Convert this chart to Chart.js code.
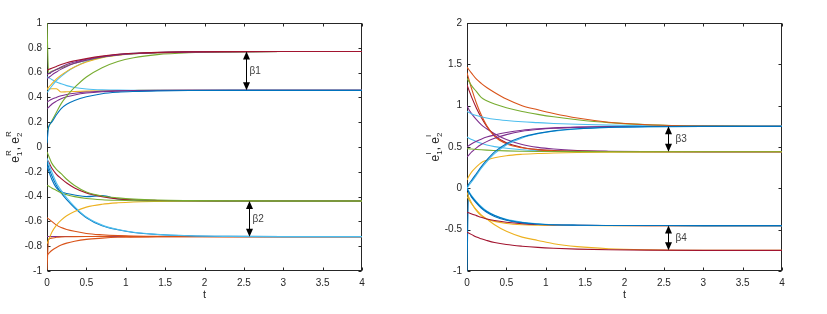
<!DOCTYPE html>
<html>
<head>
<meta charset="utf-8">
<script src="https://cdn.jsdelivr.net/npm/chart.js@4.4.0/dist/chart.umd.min.js"></script>
<style>
  html, body { margin: 0; padding: 0; background: #fff; }
  #wrap { position: relative; width: 827px; height: 314px; }
  .box { position: absolute; top: 0; height: 314px; }
  #leftBox { left: 0; width: 413px; }
  #rightBox { left: 413px; width: 414px; }
</style>
</head>
<body>
<div id="wrap">
  <div class="box" id="leftBox"><canvas id="leftChart"></canvas></div>
  <div class="box" id="rightBox"><canvas id="rightChart"></canvas></div>
</div>
<script>
// time samples shared by every curve
const timeGrid = [0, 0.02, 0.06, 0.12, 0.18, 0.25, 0.35, 0.5, 0.7, 0.9, 1.1, 1.4, 1.8, 2.3, 3, 4];

const xTicks = [0, 0.5, 1, 1.5, 2, 2.5, 3, 3.5, 4];
const leftYTicks = [-1, -0.8, -0.6, -0.4, -0.2, 0, 0.2, 0.4, 0.6, 0.8, 1];
const rightYTicks = [-1, -0.5, 0, 0.5, 1, 1.5, 2];

// left plot: e1R, e2R
const lRedA     = [0.62, 0.625, 0.635, 0.65, 0.665, 0.68, 0.695, 0.713, 0.733, 0.748, 0.756, 0.763, 0.767, 0.769, 0.77, 0.77];
const lPurpleA  = [0.585, 0.59, 0.605, 0.625, 0.645, 0.665, 0.685, 0.707, 0.73, 0.745, 0.754, 0.762, 0.767, 0.769, 0.77, 0.77];
const lPurpleA2 = [0.55, 0.56, 0.58, 0.605, 0.628, 0.65, 0.675, 0.7, 0.726, 0.742, 0.752, 0.761, 0.766, 0.769, 0.77, 0.77];
const lGreenTop = [1.0, 0.6, 0.61, 0.625, 0.64, 0.655, 0.675, 0.7, 0.725, 0.742, 0.752, 0.761, 0.766, 0.769, 0.77, 0.77];
const lYellowA  = [0.47, 0.48, 0.51, 0.55, 0.58, 0.61, 0.645, 0.685, 0.72, 0.74, 0.752, 0.761, 0.766, 0.769, 0.77, 0.77];
const lCyanA    = [0.44, 0.455, 0.49, 0.535, 0.57, 0.605, 0.645, 0.69, 0.725, 0.745, 0.755, 0.762, 0.767, 0.769, 0.77, 0.77];
const lGreenA   = [0.135, 0.16, 0.21, 0.28, 0.35, 0.41, 0.48, 0.565, 0.64, 0.69, 0.72, 0.745, 0.76, 0.767, 0.77, 0.77];
const lCyanB    = [0.565, 0.56, 0.545, 0.525, 0.51, 0.495, 0.48, 0.468, 0.461, 0.459, 0.458, 0.457, 0.457, 0.457, 0.457, 0.457];
const lYellowB  = [0.465, 0.468, 0.47, 0.47, 0.443, 0.445, 0.448, 0.451, 0.454, 0.455, 0.456, 0.457, 0.457, 0.457, 0.457, 0.457];
const lPurpleB  = [0.31, 0.32, 0.345, 0.37, 0.39, 0.405, 0.42, 0.435, 0.446, 0.451, 0.454, 0.456, 0.457, 0.457, 0.457, 0.457];
const lPurpleB2 = [0.36, 0.37, 0.385, 0.4, 0.413, 0.423, 0.433, 0.443, 0.45, 0.454, 0.456, 0.457, 0.457, 0.457, 0.457, 0.457];
const lBlueB    = [0.03, 0.16, 0.2, 0.26, 0.31, 0.345, 0.375, 0.405, 0.43, 0.442, 0.448, 0.453, 0.456, 0.457, 0.457, 0.457];
const lGreenC   = [-0.04, -0.07, -0.13, -0.18, -0.215, -0.26, -0.31, -0.363, -0.395, -0.41, -0.42, -0.428, -0.432, -0.434, -0.435, -0.435];
const lGreenC2  = [-0.31, -0.315, -0.33, -0.35, -0.37, -0.385, -0.4, -0.415, -0.425, -0.43, -0.433, -0.435, -0.435, -0.435, -0.435, -0.435];
const lRedC     = [-0.1, -0.12, -0.17, -0.22, -0.255, -0.29, -0.33, -0.37, -0.4, -0.418, -0.426, -0.431, -0.434, -0.435, -0.435, -0.435];
const lBlueC    = [-0.15, -0.19, -0.26, -0.33, -0.36, -0.375, -0.387, -0.4, -0.392, -0.42, -0.428, -0.432, -0.434, -0.435, -0.435, -0.435];
const lYellowC  = [-0.78, -0.75, -0.69, -0.63, -0.59, -0.555, -0.52, -0.485, -0.462, -0.45, -0.443, -0.439, -0.437, -0.436, -0.435, -0.435];
const lCyanD    = [-0.09, -0.13, -0.2, -0.29, -0.35, -0.41, -0.48, -0.565, -0.63, -0.665, -0.688, -0.705, -0.716, -0.721, -0.723, -0.723];
const lBlueD    = [-0.12, -0.16, -0.23, -0.31, -0.37, -0.425, -0.49, -0.57, -0.635, -0.668, -0.69, -0.706, -0.716, -0.721, -0.723, -0.723];
const lOrangeD  = [-0.57, -0.58, -0.6, -0.63, -0.65, -0.665, -0.68, -0.697, -0.708, -0.715, -0.719, -0.721, -0.722, -0.723, -0.723, -0.723];
const lOrangeD2 = [-0.873, -0.86, -0.835, -0.81, -0.79, -0.775, -0.76, -0.745, -0.735, -0.728, -0.725, -0.724, -0.723, -0.723, -0.723, -0.723];
const lPurpleD  = [-0.722, -0.722, -0.722, -0.722, -0.722, -0.722, -0.722, -0.722, -0.722, -0.722, -0.722, -0.722, -0.722, -0.722, -0.722, -0.722];
const lRedD     = [-0.99, -0.745, -0.735, -0.728, -0.725, -0.724, -0.723, -0.722, -0.721, -0.716, -0.725, -0.724, -0.723, -0.723, -0.723, -0.723];

// right plot: e1I, e2I
const rBlueA    = [0.02, 0.05, 0.1, 0.18, 0.26, 0.34, 0.44, 0.54, 0.62, 0.665, 0.695, 0.72, 0.737, 0.746, 0.75, 0.75];
const rCyanA    = [0.0, 0.03, 0.08, 0.16, 0.24, 0.32, 0.42, 0.525, 0.61, 0.66, 0.69, 0.717, 0.735, 0.745, 0.75, 0.75];
const rOrangeA  = [1.467, 1.44, 1.39, 1.32, 1.27, 1.22, 1.16, 1.08, 1.0, 0.95, 0.905, 0.85, 0.8, 0.77, 0.755, 0.75];
const rGreenA   = [1.33, 1.3, 1.24, 1.17, 1.1, 1.06, 1.02, 0.975, 0.93, 0.895, 0.865, 0.83, 0.795, 0.77, 0.755, 0.75];
const rCyanA2   = [0.93, 0.92, 0.9, 0.88, 0.865, 0.85, 0.835, 0.82, 0.805, 0.795, 0.785, 0.775, 0.765, 0.757, 0.752, 0.75];
const rPurpleA  = [0.38, 0.4, 0.44, 0.49, 0.53, 0.565, 0.605, 0.65, 0.69, 0.712, 0.726, 0.737, 0.745, 0.748, 0.75, 0.75];
const rPurpleA2 = [0.5, 0.515, 0.54, 0.57, 0.595, 0.62, 0.645, 0.675, 0.703, 0.72, 0.731, 0.74, 0.746, 0.749, 0.75, 0.75];
const rGreenB   = [0.48, 0.478, 0.475, 0.47, 0.466, 0.462, 0.458, 0.453, 0.449, 0.446, 0.445, 0.444, 0.443, 0.443, 0.443, 0.443];
const rOrangeB  = [1.4, 1.33, 1.2, 1.03, 0.89, 0.76, 0.63, 0.54, 0.49, 0.465, 0.455, 0.448, 0.445, 0.443, 0.443, 0.443];
const rRedB     = [1.25, 1.2, 1.1, 0.97, 0.86, 0.75, 0.64, 0.55, 0.495, 0.47, 0.457, 0.45, 0.446, 0.444, 0.443, 0.443];
const rPurpleB  = [1.0, 0.96, 0.9, 0.83, 0.77, 0.72, 0.66, 0.59, 0.53, 0.495, 0.475, 0.458, 0.449, 0.445, 0.443, 0.443];
const rCyanB    = [0.62, 0.61, 0.59, 0.565, 0.545, 0.525, 0.505, 0.485, 0.467, 0.457, 0.451, 0.447, 0.445, 0.443, 0.443, 0.443];
const rYellowB  = [0.1, 0.14, 0.2, 0.26, 0.31, 0.34, 0.37, 0.395, 0.412, 0.422, 0.428, 0.434, 0.438, 0.441, 0.443, 0.443];
const rBlueC    = [0.0, -0.04, -0.1, -0.17, -0.23, -0.28, -0.33, -0.38, -0.415, -0.432, -0.441, -0.446, -0.449, -0.45, -0.451, -0.451];
const rCyanC    = [0.02, -0.03, -0.09, -0.16, -0.22, -0.275, -0.325, -0.375, -0.41, -0.43, -0.44, -0.446, -0.449, -0.45, -0.451, -0.451];
const rRedC     = [-0.29, -0.295, -0.31, -0.33, -0.35, -0.37, -0.39, -0.41, -0.428, -0.438, -0.444, -0.448, -0.45, -0.451, -0.451, -0.451];
const rYellowC  = [-0.05, -0.1, -0.18, -0.27, -0.33, -0.37, -0.4, -0.425, -0.44, -0.446, -0.449, -0.45, -0.451, -0.451, -0.451, -0.451];
const rYellowD  = [-0.1, -0.13, -0.19, -0.26, -0.32, -0.37, -0.44, -0.52, -0.59, -0.63, -0.67, -0.705, -0.73, -0.743, -0.75, -0.75];
const rRedD     = [-0.53, -0.54, -0.56, -0.59, -0.61, -0.63, -0.655, -0.68, -0.7, -0.714, -0.724, -0.735, -0.743, -0.748, -0.75, -0.75];
const rBlueLow  = [-1.0, -0.05, -0.11, -0.18, -0.24, -0.29, -0.34, -0.385, -0.418, -0.434, -0.442, -0.447, -0.449, -0.45, -0.451, -0.451];

// gap arrows (data units)
const leftArrowT = [2.53, 2.57];
const leftArrowTop = [0.77, -0.435];
const leftArrowBottom = [0.457, -0.723];
const leftArrowLabels = ['β1', 'β2'];
const rightArrowT = [2.55, 2.55];
const rightArrowTop = [0.75, -0.451];
const rightArrowBottom = [0.443, -0.75];
const rightArrowLabels = ['β3', 'β4'];

const C = {
    blue: '#0072BD', orange: '#D95319', yellow: '#EDB120', purple: '#7E2F8E',
    green: '#77AC30', cyan: '#4DBEEE', red: '#A2142F'
};
const FONT = '"Liberation Sans", Arial, Helvetica, sans-serif';
const AXIS_COLOR = '#262626';

// first entry is drawn on top
const leftLines = [
    [lRedA, C.red], [lPurpleA, C.purple], [lBlueB, C.blue], [lGreenC, C.green], [lCyanD, C.cyan],
    [lPurpleA2, C.purple], [lGreenTop, C.green], [lYellowA, C.yellow], [lCyanA, C.cyan], [lGreenA, C.green],
    [lPurpleB, C.purple], [lPurpleB2, C.purple], [lCyanB, C.cyan], [lYellowB, C.yellow],
    [lGreenC2, C.green], [lRedC, C.red], [lBlueC, C.blue], [lYellowC, C.yellow],
    [lBlueD, C.blue], [lRedD, C.orange], [lOrangeD, C.orange], [lOrangeD2, C.orange], [lPurpleD, C.purple]
];
const rightLines = [
    [rBlueA, C.blue], [rGreenB, C.green], [rBlueC, C.blue], [rRedD, C.red],
    [rCyanA, C.cyan], [rOrangeA, C.orange], [rGreenA, C.green], [rCyanA2, C.cyan],
    [rPurpleA, C.purple], [rPurpleA2, C.purple], [rYellowB, C.yellow], [rOrangeB, C.orange],
    [rRedB, C.red], [rPurpleB, C.purple], [rCyanB, C.cyan],
    [rCyanC, C.cyan], [rRedC, C.red], [rYellowC, C.yellow], [rYellowD, C.yellow], [rBlueLow, C.blue]
];

function makeDatasets(lines) {
    return lines.map(([vals, color]) => ({
        data: timeGrid.map((t, i) => ({ x: t, y: vals[i] })),
        borderColor: color,
        borderWidth: 1.1,
        pointRadius: 0,
        fill: false,
        cubicInterpolationMode: 'monotone'
    }));
}

// box + inward ticks, MATLAB style
const framePlugin = {
    id: 'frame',
    beforeDatasetsDraw(chart) {
        const { ctx, chartArea: a, scales } = chart;
        const L = Math.round(a.left) + 0.5, R = Math.round(a.right) - 0.5;
        const T = Math.round(a.top) + 0.5, B = Math.round(a.bottom) - 0.5;
        ctx.save();
        ctx.strokeStyle = AXIS_COLOR;
        ctx.lineWidth = 1;
        ctx.strokeRect(L, T, R - L, B - T);
        ctx.beginPath();
        scales.x.ticks.forEach(tk => {
            const px = Math.round(scales.x.getPixelForValue(tk.value)) + 0.5;
            ctx.moveTo(px, B); ctx.lineTo(px, B - 3);
            ctx.moveTo(px, T); ctx.lineTo(px, T + 3);
        });
        scales.y.ticks.forEach(tk => {
            const py = Math.round(scales.y.getPixelForValue(tk.value)) + 0.5;
            ctx.moveTo(L, py); ctx.lineTo(L + 3, py);
            ctx.moveTo(R, py); ctx.lineTo(R - 3, py);
        });
        ctx.stroke();
        ctx.restore();
    }
};

function drawArrow(ctx, x, y1, y2) {
    const hl = 8, hw = 3.5;
    ctx.beginPath();
    ctx.moveTo(x, y1 + hl - 1); ctx.lineTo(x, y2 - hl + 1);
    ctx.stroke();
    ctx.beginPath();
    ctx.moveTo(x, y1); ctx.lineTo(x - hw, y1 + hl); ctx.lineTo(x + hw, y1 + hl); ctx.closePath();
    ctx.moveTo(x, y2); ctx.lineTo(x - hw, y2 - hl); ctx.lineTo(x + hw, y2 - hl); ctx.closePath();
    ctx.fill();
}

function drawYLabel(ctx, bx, cy, sup) {
    const big = '12px ' + FONT, small = '8px ' + FONT;
    const parts = [
        { t: 'e' }, { sub: '1', sup: sup }, { t: ', e' }, { sub: '2', sup: sup }
    ];
    let w = 0;
    parts.forEach(p => {
        if (p.t) { ctx.font = big; p.w = ctx.measureText(p.t).width; }
        else { ctx.font = small; p.w = Math.max(ctx.measureText(p.sub).width, ctx.measureText(p.sup).width); }
        w += p.w;
    });
    ctx.save();
    ctx.translate(bx, cy);
    ctx.rotate(-Math.PI / 2);
    ctx.fillStyle = AXIS_COLOR;
    ctx.textBaseline = 'alphabetic';
    ctx.textAlign = 'left';
    let x = -w / 2;
    parts.forEach(p => {
        if (p.t) { ctx.font = big; ctx.fillText(p.t, x, 0); }
        else {
            ctx.font = small;
            ctx.fillText(p.sup, x, -8);
            ctx.fillText(p.sub, x, 3);
        }
        x += p.w;
    });
    ctx.restore();
}

function annotationPlugin(arrowT, tops, bottoms, labels, gap, sup) {
    return {
        id: 'notes',
        afterDatasetsDraw(chart) {
            const { ctx, scales } = chart;
            ctx.save();
            ctx.strokeStyle = '#000';
            ctx.fillStyle = '#000';
            ctx.lineWidth = 1;
            arrowT.forEach((t, i) => {
                const x = Math.round(scales.x.getPixelForValue(t)) + 0.5;
                const y1 = scales.y.getPixelForValue(tops[i]);
                const y2 = scales.y.getPixelForValue(bottoms[i]);
                drawArrow(ctx, x, y1, y2);
                ctx.fillStyle = '#404040';
                ctx.font = '10px ' + FONT;
                ctx.textAlign = 'left';
                ctx.textBaseline = 'middle';
                ctx.fillText(labels[i], x + gap, (y1 + y2) / 2);
                ctx.fillStyle = '#000';
            });
            ctx.restore();
        },
        afterDraw(chart) {
            const { ctx, chartArea: a } = chart;
            ctx.save();
            ctx.fillStyle = AXIS_COLOR;
            ctx.font = '11px ' + FONT;
            ctx.textAlign = 'center';
            ctx.textBaseline = 'middle';
            ctx.fillText('t', (a.left + a.right) / 2, 295);
            ctx.restore();
            drawYLabel(ctx, a.left - 28.5, (a.top + a.bottom) / 2, sup);
        }
    };
}

function buildChart(id, lines, yTicks, yMin, yMax, yAxisWidth, padRight, notes) {
    new Chart(document.getElementById(id), {
        type: 'line',
        data: { datasets: makeDatasets(lines) },
        options: {
            responsive: true,
            maintainAspectRatio: false,
            animation: false,
            events: [],
            layout: { padding: { top: 23, right: padRight, bottom: 0, left: 0 } },
            plugins: { legend: { display: false }, tooltip: { enabled: false } },
            scales: {
                x: {
                    type: 'linear', min: 0, max: 4,
                    afterBuildTicks: s => { s.ticks = xTicks.map(v => ({ value: v })); },
                    afterFit: s => { s.height = 43; },
                    grid: { display: false, drawTicks: false },
                    border: { display: false },
                    ticks: { padding: 6, color: AXIS_COLOR, font: { family: FONT, size: 10 }, maxRotation: 0, callback: v => String(v) }
                },
                y: {
                    type: 'linear', min: yMin, max: yMax,
                    afterBuildTicks: s => { s.ticks = yTicks.map(v => ({ value: v })); },
                    afterFit: s => { s.width = yAxisWidth; },
                    grid: { display: false, drawTicks: false },
                    border: { display: false },
                    ticks: { padding: 5, color: AXIS_COLOR, font: { family: FONT, size: 10 }, callback: v => String(v) }
                }
            }
        },
        plugins: [framePlugin, notes]
    });
}

buildChart('leftChart', leftLines, leftYTicks, -1, 1, 47, 51,
    annotationPlugin(leftArrowT, leftArrowTop, leftArrowBottom, leftArrowLabels, 3, 'R'));
buildChart('rightChart', rightLines, rightYTicks, -1, 2, 54, 45,
    annotationPlugin(rightArrowT, rightArrowTop, rightArrowBottom, rightArrowLabels, 7, 'I'));
</script>
</body>
</html>
